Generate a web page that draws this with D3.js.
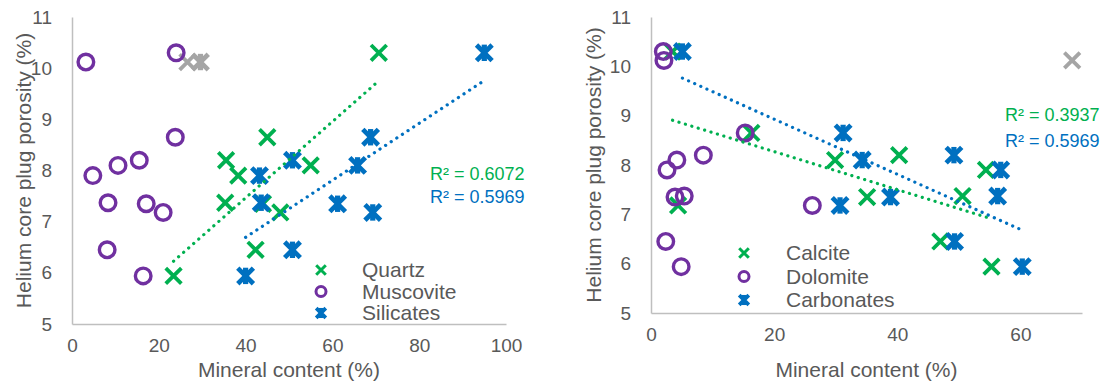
<!DOCTYPE html>
<html lang="en">
<head>
<meta charset="UTF-8">
<title>Porosity vs mineral content</title>
<style>
body { margin: 0; background: #fff; }
text { font-family: "Liberation Sans", Arial, sans-serif; fill: #595959; }
</style>
</head>
<body>
<script src="https://cdn.jsdelivr.net/npm/d3@7/dist/d3.min.js"></script>
<script>
// one value per core plug; plug 1 is the excluded (grey) sample
var porosity   = [10.3, 10.12, 8.65, 8.2, 8.1, 7.9, 7.37, 7.35, 7.18, 6.45, 5.94];
var quartz     = [70.7, 26.6, 45, 35.5, 55, 38.3, 35.3, 44, 48, 42.3, 23.4];
var muscovite  = [24, 3.2, 23.8, 15.5, 10.6, 4.8, 8.3, 17.1, 21, 8.1, 16.4];
var silicates  = [95, 29.6, 68.8, 50.8, 65.8, 43.2, 43.6, 61.2, 69.3, 50.8, 40];
var calcite    = [3.5, 68.4, 16.3, 40.3, 29.9, 54.4, 50.6, 35.1, 4.4, 47, 55.3];
var dolomite   = [2.0, 2.1, 15.3, 8.5, 4.2, 2.6, 5.4, 3.9, 26.2, 2.4, 4.9];
var carbonates = [5.1, null, 31.2, 49.2, 34.3, 56.8, 56.3, 38.9, 30.7, 49.3, 60.3];
var excluded = 1;

var yTicks = [5, 6, 7, 8, 9, 10, 11];
var xTicksLeft = [0, 20, 40, 60, 80, 100];
var xTicksRight = [0, 20, 40, 60];
var r2Left = ['R² = 0.6072', 'R² = 0.5969'];
var r2Right = ['R² = 0.3937', 'R² = 0.5969'];

var green = '#00B050', purple = '#7030A0', blue = '#0070C0', grey = '#A5A5A5';

var svg = d3.select('body').append('svg')
    .attr('width', 1106)
    .attr('height', 383);

// x, circle or star (x with a vertical bar), s = half size, w = stroke
function marker(g, type, color, s, w) {
    if (type == 'circle') {
        g.append('circle').attr('r', s).attr('fill', 'none')
            .attr('stroke', color).attr('stroke-width', w);
        return;
    }
    if (type == 'star') w = w * 1.25;
    g.append('path')
        .attr('d', `M${-s},${-s}L${s},${s}M${-s},${s}L${s},${-s}`)
        .attr('stroke', color).attr('stroke-width', w).attr('fill', 'none');
    if (type == 'star') {
        g.append('path')
            .attr('d', `M0,${-s * 1.05}L0,${s * 1.05}`)
            .attr('stroke', color).attr('stroke-width', w * 1.1);
    }
}

function fit(xs) {
    var pts = [];
    xs.forEach((x, i) => { if (i != excluded && x != null) pts.push([x, porosity[i]]); });
    var mx = d3.mean(pts, p => p[0]), my = d3.mean(pts, p => p[1]);
    var sxy = d3.sum(pts, p => (p[0] - mx) * (p[1] - my));
    var sxx = d3.sum(pts, p => (p[0] - mx) * (p[0] - mx));
    var b = sxy / sxx, a = my - b * mx;
    var x0 = d3.min(pts, p => p[0]), x1 = d3.max(pts, p => p[0]);
    return [[x0, a + b * x0], [x1, a + b * x1]];
}

function panel(opt) {
    var x = d3.scaleLinear().domain([0, opt.xMax]).range([opt.left, opt.right]);
    var y = d3.scaleLinear().domain([5, 11]).range([opt.bottom, 17]);

    var ya = svg.append('g')
        .attr('transform', `translate(${opt.left},0)`)
        .call(d3.axisLeft(y).tickValues(yTicks).tickFormat(d3.format('d')).tickSize(0).tickPadding(20));
    var xa = svg.append('g')
        .attr('transform', `translate(0,${opt.bottom})`)
        .call(d3.axisBottom(x).tickValues(opt.xTicks).tickFormat(d3.format('d')).tickSize(0).tickPadding(15));
    [ya, xa].forEach(a => {
        a.select('.domain').attr('stroke', '#BFBFBF').attr('stroke-width', 1.5);
        a.selectAll('text').style('font-size', '19px')
            .style('font-family', '"Liberation Sans", Arial, sans-serif').style('fill', '#595959');
    });

    svg.append('text')
        .text('Mineral content (%)')
        .attr('text-anchor', 'middle')
        .style('font-size', '21px')
        .attr('x', (opt.left + opt.right) / 2)
        .attr('y', 377);
    svg.append('text')
        .text('Helium core plug porosity (%)')
        .attr('text-anchor', 'middle')
        .attr('dy', '0.35em')
        .style('font-size', '21px')
        .attr('transform', `translate(${opt.titleX},${(opt.bottom + 17) / 2}) rotate(-90)`);

    opt.series.forEach(s => {
        s.values.forEach((v, i) => {
            if (v == null) return;
            var g = svg.append('g').attr('transform', `translate(${x(v)},${y(porosity[i])})`);
            var c = (i == excluded && s.type != 'circle') ? grey : s.color;
            marker(g, s.type, c, s.type == 'circle' ? 7.8 : 7.8, s.type == 'circle' ? 3.4 : 3.8);
        });
    });

    opt.series.filter(s => s.trend).forEach(s => {
        var line = fit(s.values);
        svg.append('line')
            .attr('x1', x(line[0][0])).attr('y1', y(line[0][1]))
            .attr('x2', x(line[1][0])).attr('y2', y(line[1][1]))
            .attr('stroke', s.color)
            .attr('stroke-width', 3.2)
            .attr('stroke-linecap', 'round')
            .attr('stroke-dasharray', '0.1 6.6');
    });

    opt.r2.forEach((t, i) => {
        svg.append('text')
            .text(t)
            .attr('x', opt.r2x)
            .attr('y', opt.r2y[i])
            .attr('dy', '0.35em')
            .style('font-size', '18px')
            .style('fill', i == 0 ? green : blue);
    });

    var legend = svg.selectAll(null)
        .data(opt.series)
        .enter().append('g')
        .attr('transform', (d, i) => `translate(${opt.legX},${opt.legY + i * opt.legStep})`);
    legend.each(function (d) {
        marker(d3.select(this), d.type, d.color, d.type == 'circle' ? 5 : 4.8, 3);
    });
    legend.append('text')
        .text(d => d.name)
        .attr('x', opt.legText - opt.legX)
        .attr('dy', '0.35em')
        .style('font-size', '21px');
}

panel({
    left: 72, right: 506, bottom: 324, xMax: 100, xTicks: xTicksLeft, titleX: 24,
    series: [
        {name: 'Quartz', values: quartz, type: 'x', color: green, trend: true},
        {name: 'Muscovite', values: muscovite, type: 'circle', color: purple},
        {name: 'Silicates', values: silicates, type: 'star', color: blue, trend: true}
    ],
    r2: r2Left, r2x: 430, r2y: [174, 197],
    legX: 321, legText: 362, legY: 270, legStep: 21.5
});

panel({
    left: 651, right: 1082, bottom: 313, xMax: 70, xTicks: xTicksRight, titleX: 594,
    series: [
        {name: 'Calcite', values: calcite, type: 'x', color: green, trend: true},
        {name: 'Dolomite', values: dolomite, type: 'circle', color: purple},
        {name: 'Carbonates', values: carbonates, type: 'star', color: blue, trend: true}
    ],
    r2: r2Right, r2x: 1005, r2y: [115, 141],
    legX: 744, legText: 786, legY: 253, legStep: 23.5
});
</script>
</body>
</html>
